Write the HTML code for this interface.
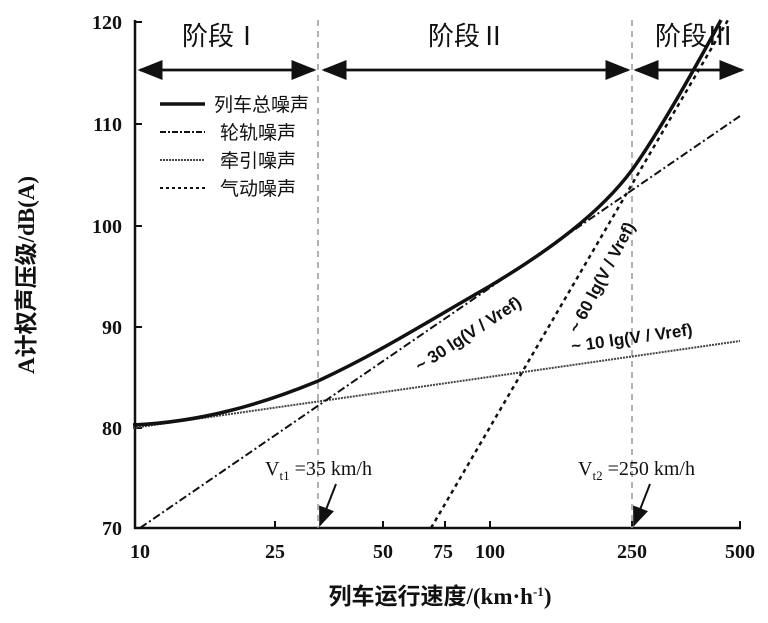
<!DOCTYPE html>
<html><head><meta charset="utf-8"><style>
body{margin:0;background:#fff}
svg text{font-family:"Liberation Serif","Noto Serif CJK SC",serif;fill:#111}
.cj{font-family:"Liberation Sans","Noto Sans CJK SC",sans-serif}
</style></head><body>
<svg width="768" height="618" viewBox="0 0 768 618" xmlns="http://www.w3.org/2000/svg">
<defs><marker id="a" markerWidth="10" markerHeight="10" refX="9" refY="5" orient="auto"><path d="M0,1 L10,5 L0,9z" fill="#111"/></marker></defs>
<g stroke="#111" stroke-width="2.5" fill="none">
<line x1="135" y1="20" x2="135" y2="529"/>
<line x1="134" y1="528" x2="741" y2="528"/>
</g>
<g stroke="#111" stroke-width="2">
<line x1="135" y1="22" x2="142" y2="22"/><line x1="135" y1="124" x2="142" y2="124"/><line x1="135" y1="226" x2="142" y2="226"/><line x1="135" y1="327" x2="142" y2="327"/><line x1="135" y1="428" x2="142" y2="428"/>
<line x1="275" y1="528" x2="275" y2="521"/><line x1="383" y1="528" x2="383" y2="521"/><line x1="445" y1="528" x2="445" y2="521"/><line x1="490" y1="528" x2="490" y2="521"/><line x1="632" y1="528" x2="632" y2="521"/><line x1="740" y1="528" x2="740" y2="521"/>
</g>
<g font-size="20" text-anchor="end" font-weight="bold">
<text x="122" y="29">120</text><text x="122" y="131">110</text><text x="122" y="233">100</text><text x="122" y="334">90</text><text x="122" y="435">80</text><text x="122" y="535">70</text>
</g>
<g font-size="20" text-anchor="middle" font-weight="bold">
<text x="140" y="558">10</text><text x="275" y="558">25</text><text x="383" y="558">50</text><text x="443" y="558">75</text><text x="490" y="558">100</text><text x="632" y="558">250</text><text x="740" y="558">500</text>
</g>
<g stroke="#999" stroke-width="1.5" stroke-dasharray="6,5">
<line x1="318" y1="20" x2="318" y2="528"/><line x1="632" y1="20" x2="632" y2="528"/>
</g>
<g stroke="#111" stroke-width="2.5" marker-end="url(#a)">
<line x1="140" y1="70" x2="314" y2="70"/>
<line x1="314" y1="70" x2="140" y2="70"/>
<line x1="324" y1="70" x2="628" y2="70"/>
<line x1="628" y1="70" x2="324" y2="70"/>
<line x1="636" y1="70" x2="742" y2="70"/>
<line x1="742" y1="70" x2="636" y2="70"/>
</g>
<g font-size="26">
<text x="182" y="45" class="cj">阶段Ⅰ</text><text x="428" y="45" class="cj">阶段Ⅱ</text><text x="655" y="45" class="cj">阶段Ⅲ</text>
</g>
<!-- series -->
<line x1="133" y1="428" x2="740" y2="341" stroke="#444" stroke-width="2" stroke-dasharray="2,1"/>
<line x1="140" y1="528" x2="740" y2="116" stroke="#111" stroke-width="2" stroke-dasharray="8,3,2,3"/>
<line x1="431" y1="528" x2="728" y2="20" stroke="#111" stroke-width="2.5" stroke-dasharray="4,4"/>
<path d="M133,425 C200,422 260,405 318,381 C380,352 420,326 490,286 C550,250 600,213 632,170 C662,128 705,50 721,20" stroke="#111" stroke-width="3.5" fill="none"/>
<!-- legend -->
<line x1="160" y1="104" x2="205" y2="104" stroke="#111" stroke-width="3.5"/>
<line x1="160" y1="132" x2="205" y2="132" stroke="#111" stroke-width="2" stroke-dasharray="6,2,2,2"/>
<line x1="160" y1="160" x2="205" y2="160" stroke="#444" stroke-width="2" stroke-dasharray="2,1"/>
<line x1="160" y1="188" x2="205" y2="188" stroke="#111" stroke-width="2" stroke-dasharray="3,3"/>
<g font-size="19">
<text x="214" y="111" class="cj">列车总噪声</text><text x="220" y="139" class="cj">轮轨噪声</text><text x="220" y="167" class="cj">牵引噪声</text><text x="220" y="195" class="cj">气动噪声</text>
</g>
<g font-size="17" font-weight="bold">
<text transform="translate(420,372) rotate(-33)" style="font-family:'Liberation Sans',sans-serif">~ 30 lg(V / Vref)</text>
<text transform="translate(578,334) rotate(-62)" style="font-family:'Liberation Sans',sans-serif">~ 60 lg(V / Vref)</text>
<text transform="translate(572,352) rotate(-8)" style="font-family:'Liberation Sans',sans-serif">~ 10 lg(V / Vref)</text>
</g>
<g font-size="20">
<text x="265" y="475">V<tspan font-size="13" dy="5">t1</tspan><tspan dy="-5"> =35 km/h</tspan></text>
<text x="578" y="475">V<tspan font-size="13" dy="5">t2</tspan><tspan dy="-5"> =250 km/h</tspan></text>
</g>
<g stroke="#111" stroke-width="2" marker-end="url(#a)">
<line x1="336" y1="484" x2="320" y2="525"/>
<line x1="650" y1="484" x2="634" y2="525"/>
</g>
<text x="440" y="604" text-anchor="middle" font-size="23" font-weight="bold"><tspan style="font-family:'Liberation Sans','Noto Sans CJK SC',sans-serif">列车运行速度</tspan>/(km·h<tspan font-size="13" dy="-8">-1</tspan><tspan dy="8">)</tspan></text>
<text transform="translate(34,275) rotate(-90)" text-anchor="middle" font-size="23" font-weight="bold">A<tspan style="font-family:'Liberation Sans','Noto Sans CJK SC',sans-serif">计权声压级</tspan>/dB(A)</text>
</svg>
</body></html>
